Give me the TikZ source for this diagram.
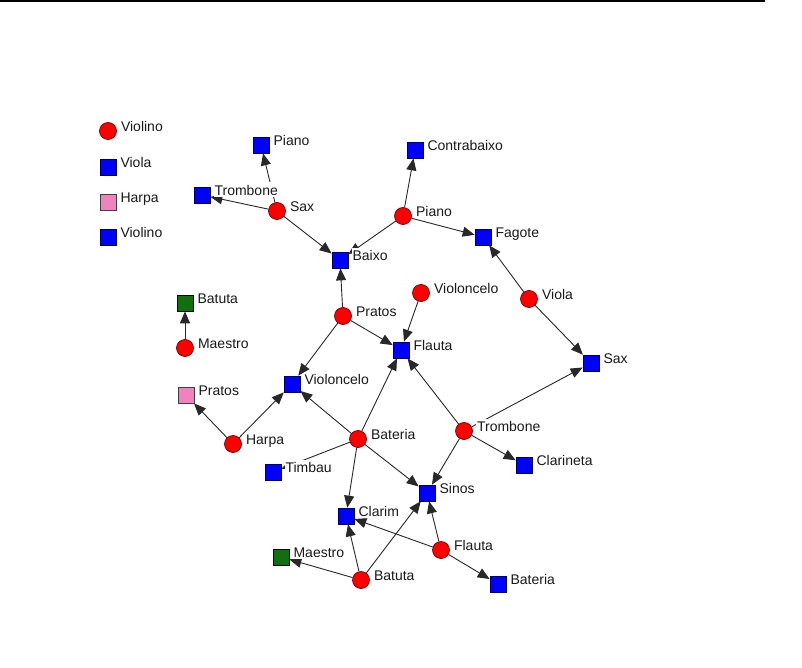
\documentclass[tikz,border=0pt]{standalone}
\usepackage{fontspec}
\setmainfont{Liberation Sans}
\usetikzlibrary{arrows.meta,backgrounds,calc}
\definecolor{pinkbox}{RGB}{240,130,190}
\definecolor{greenbox}{RGB}{16,112,16}
\definecolor{linegray}{RGB}{40,40,40}
\begin{document}
\begin{tikzpicture}[x=1pt,y=-1pt,
  cir/.style={circle, draw=red!45!black, fill=red, minimum size=17pt, inner sep=0pt, line width=0.7pt},
  sqb/.style={rectangle, draw=blue!35!black, fill=blue, minimum size=16pt, inner sep=0pt, line width=0.7pt},
  sqp/.style={rectangle, draw=black!75, fill=pinkbox, minimum size=16pt, inner sep=0pt, line width=0.7pt},
  sqg/.style={rectangle, draw=black, fill=greenbox, minimum size=16pt, inner sep=0pt, line width=0.7pt},
  lab/.style={font=\fontsize{14}{15}\selectfont, fill=white, inner xsep=1pt, inner ysep=1.5pt,
    text height=11.5pt, text depth=0pt, text=black!90, anchor=base west},
  conn/.style={draw=linegray, line width=0.9pt, -{Triangle[length=12pt,width=10pt]}}
]
\useasboundingbox (0,0) rectangle (802,668);
\draw[line width=2pt] (0,1) -- (765,1);

% legend
\node[cir] (lg1) at (108,131) {};
\node[sqb] (lg2) at (108,167) {};
\node[sqp] (lg3) at (108,202) {};
\node[sqb] (lg4) at (108,237) {};

% graph nodes
\node[sqb] (sPiano) at (261,145) {};
\node[sqb] (sTrombone) at (202,195) {};
\node[cir] (cSax) at (277,211) {};
\node[sqb] (sContrabaixo) at (415,150) {};
\node[cir] (cPiano) at (403,216) {};
\node[sqb] (sFagote) at (483,237) {};
\node[sqb] (sBaixo) at (340,260) {};
\node[cir] (cVioloncelo) at (421,293) {};
\node[cir] (cViola) at (529,299) {};
\node[sqg] (sBatuta) at (185,303) {};
\node[cir] (cMaestro) at (185,348) {};
\node[cir] (cPratos) at (343,316) {};
\node[sqb] (sFlauta) at (401,350) {};
\node[sqb] (sSax) at (591,363) {};
\node[sqb] (sVioloncelo) at (292,384) {};
\node[sqp] (sPratos) at (186,395) {};
\node[cir] (cHarpa) at (233,444) {};
\node[cir] (cBateria) at (358,439) {};
\node[cir] (cTrombone) at (464,431) {};
\node[sqb] (sTimbau) at (273,472) {};
\node[sqb] (sClarineta) at (524,465) {};
\node[sqb] (sSinos) at (427,493) {};
\node[sqb] (sClarim) at (346,516) {};
\node[cir] (cFlauta) at (441,550) {};
\node[sqg] (sMaestro) at (281,557) {};
\node[cir] (cBatuta) at (361,580) {};
\node[sqb] (sBateria) at (498,584) {};

% connectors
\begin{pgfonlayer}{background}
\fill[white] (0,0) rectangle (802,668);
\foreach \a/\b in {cSax/sPiano, cSax/sTrombone, cSax/sBaixo,
  cPiano/sContrabaixo, cPiano/sFagote, cPiano/sBaixo,
  cViola/sFagote, cViola/sSax,
  cPratos/sBaixo, cPratos/sFlauta, cPratos/sVioloncelo,
  cVioloncelo/sFlauta, cMaestro/sBatuta,
  cHarpa/sPratos, cHarpa/sVioloncelo,
  cBateria/sVioloncelo, cBateria/sFlauta, cBateria/sTimbau, cBateria/sClarim, cBateria/sSinos,
  cTrombone/sFlauta, cTrombone/sSax, cTrombone/sClarineta, cTrombone/sSinos,
  cFlauta/sSinos, cFlauta/sClarim, cFlauta/sBateria,
  cBatuta/sClarim, cBatuta/sSinos, cBatuta/sMaestro}
  \draw[conn] (\a) -- (\b);
\end{pgfonlayer}

% labels
\node[lab] (tlg1) at ($(lg1.east)+(3,0.5)$) {Violino};
\node[lab] (tlg2) at ($(lg2.east)+(3,0.5)$) {Viola};
\node[lab] (tlg3) at ($(lg3.east)+(3,0.5)$) {Harpa};
\node[lab] (tlg4) at ($(lg4.east)+(3,0.5)$) {Violino};
\node[lab] (tsPiano) at ($(sPiano.east)+(3,0.5)$) {Piano};
\node[lab] (tsTrombone) at ($(sTrombone.east)+(3,0.5)$) {Trombone};
\node[lab] (tcSax) at ($(cSax.east)+(3,0.5)$) {Sax};
\node[lab] (tsContrabaixo) at ($(sContrabaixo.east)+(3,0.5)$) {Contrabaixo};
\node[lab] (tcPiano) at ($(cPiano.east)+(3,0.5)$) {Piano};
\node[lab] (tsFagote) at ($(sFagote.east)+(3,0.5)$) {Fagote};
\node[lab] (tsBaixo) at ($(sBaixo.east)+(3,0.5)$) {Baixo};
\node[lab] (tcVioloncelo) at ($(cVioloncelo.east)+(3,0.5)$) {Violoncelo};
\node[lab] (tcViola) at ($(cViola.east)+(3,0.5)$) {Viola};
\node[lab] (tsBatuta) at ($(sBatuta.east)+(3,0.5)$) {Batuta};
\node[lab] (tcMaestro) at ($(cMaestro.east)+(3,0.5)$) {Maestro};
\node[lab] (tcPratos) at ($(cPratos.east)+(3,0.5)$) {Pratos};
\node[lab] (tsFlauta) at ($(sFlauta.east)+(3,0.5)$) {Flauta};
\node[lab] (tsSax) at ($(sSax.east)+(3,0.5)$) {Sax};
\node[lab] (tsVioloncelo) at ($(sVioloncelo.east)+(3,0.5)$) {Violoncelo};
\node[lab] (tsPratos) at ($(sPratos.east)+(3,0.5)$) {Pratos};
\node[lab] (tcHarpa) at ($(cHarpa.east)+(3,0.5)$) {Harpa};
\node[lab] (tcBateria) at ($(cBateria.east)+(3,0.5)$) {Bateria};
\node[lab] (tcTrombone) at ($(cTrombone.east)+(3,0.5)$) {Trombone};
\node[lab] (tsTimbau) at ($(sTimbau.east)+(3,0.5)$) {Timbau};
\node[lab] (tsClarineta) at ($(sClarineta.east)+(3,0.5)$) {Clarineta};
\node[lab] (tsSinos) at ($(sSinos.east)+(3,0.5)$) {Sinos};
\node[lab] (tsClarim) at ($(sClarim.east)+(3,0.5)$) {Clarim};
\node[lab] (tcFlauta) at ($(cFlauta.east)+(3,0.5)$) {Flauta};
\node[lab] (tsMaestro) at ($(sMaestro.east)+(3,0.5)$) {Maestro};
\node[lab] (tcBatuta) at ($(cBatuta.east)+(3,0.5)$) {Batuta};
\node[lab] (tsBateria) at ($(sBateria.east)+(3,0.5)$) {Bateria};
\end{tikzpicture}
\end{document}
